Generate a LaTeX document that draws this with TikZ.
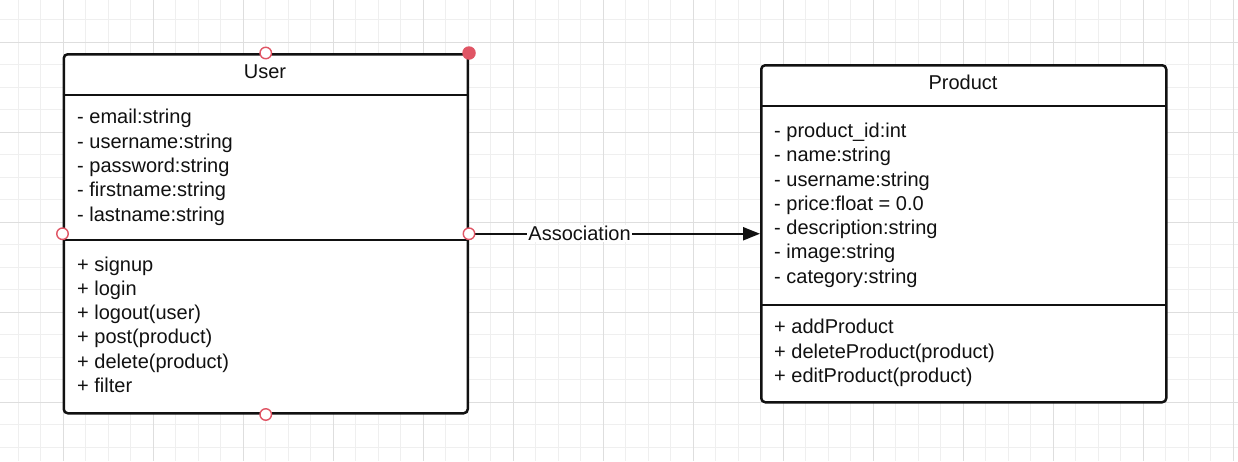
\documentclass[tikz,border=0pt]{standalone}
\usepackage{fontspec}
\setmainfont{Liberation Sans}
\usetikzlibrary{arrows.meta}
\definecolor{gridminor}{HTML}{EFEFEF}
\definecolor{gridmajor}{HTML}{DEDEDE}
\definecolor{handlered}{HTML}{E05565}
\definecolor{ink}{HTML}{111111}
\begin{document}
\begin{tikzpicture}[x=1pt,y=-1pt,line join=round,
  umlbox/.style={draw=ink, line width=2.5pt, rounded corners=4pt, fill=white, inner sep=0pt},
  sepline/.style={draw=ink, line width=2.3pt},
  txt/.style={font=\fontsize{20}{24}\selectfont, inner sep=0pt, anchor=base west, text=ink},
  ttl/.style={font=\fontsize{20}{24}\selectfont, inner sep=0pt, anchor=base, text=ink},
  handle/.style={circle, draw=handlered, fill=white, line width=1.4pt, minimum size=11.5pt, inner sep=0pt},
  handlefull/.style={circle, fill=handlered, minimum size=13.5pt, inner sep=0pt},
  assoc/.style={draw=ink, line width=2.2pt, -{Triangle[length=17pt,width=13pt]}},
  lbl/.style={font=\fontsize{20}{24}\selectfont, fill=white, inner sep=1pt, text=ink}]

\useasboundingbox (0,0) rectangle (1238,461);
\fill[white] (0,0) rectangle (1238,461);
\foreach \i in {0,...,54} \draw[gridminor, line width=1pt] ({18+22.5*\i},0) -- ({18+22.5*\i},461);
\foreach \j in {0,...,19} \draw[gridminor, line width=1pt] (0,{19.5+22.5*\j}) -- (1238,{19.5+22.5*\j});
\foreach \i in {0,...,13} \draw[gridmajor, line width=1pt] ({63+90*\i},0) -- ({63+90*\i},461);
\foreach \j in {0,...,4} \draw[gridmajor, line width=1pt] (0,{42+90*\j}) -- (1238,{42+90*\j});

% User class
\node[umlbox, minimum width=404pt, minimum height=359pt, anchor=north west] (user) at (62.5,53) {};
\draw[sepline] (62.5,95) -- (466.5,95);
\draw[sepline] (62.5,240) -- (466.5,240);
\node[ttl] (utitle) at (265,78.5) {User};
\node[txt] (ua1) at (77,123.5) {- email:string};
\node[txt] (ua2) at (77,148) {- username:string};
\node[txt] (ua3) at (77,172.5) {- password:string};
\node[txt] (ua4) at (77,196.5) {- firstname:string};
\node[txt] (ua5) at (77,221) {- lastname:string};
\node[txt] (um1) at (77,271.5) {+ signup};
\node[txt] (um2) at (77,295) {+ login};
\node[txt] (um3) at (77,319.5) {+ logout(user)};
\node[txt] (um4) at (77,343.5) {+ post(product)};
\node[txt] (um5) at (77,368) {+ delete(product)};
\node[txt] (um6) at (77,392.5) {+ filter};

% Product class
\node[umlbox, minimum width=405pt, minimum height=337pt, anchor=north west] (product) at (760,64) {};
\draw[sepline] (760,106) -- (1165,106);
\draw[sepline] (760,305) -- (1165,305);
\node[ttl] (ptitle) at (963,89.5) {Product};
\node[txt] (pa1) at (774,137.5) {- product\_id:int};
\node[txt] (pa2) at (774,161.5) {- name:string};
\node[txt] (pa3) at (774,186) {- username:string};
\node[txt] (pa4) at (774,210) {- price:float = 0.0};
\node[txt] (pa5) at (774,234.5) {- description:string};
\node[txt] (pa6) at (774,258.5) {- image:string};
\node[txt] (pa7) at (774,283) {- category:string};
\node[txt] (pm1) at (774,333.5) {+ addProduct};
\node[txt] (pm2) at (774,358) {+ deleteProduct(product)};
\node[txt] (pm3) at (774,382.5) {+ editProduct(product)};

% Association
\draw[assoc] (user.east) -- node[lbl, pos=0.38] (assoclbl) {Association} (product.west);

% selection handles
\node[handle] (hn) at (user.north) {};
\node[handlefull] (hne) at (user.north east) {};
\node[handle] (hw) at (user.west) {};
\node[handle] (he) at (user.east) {};
\node[handle] (hs) at (user.south) {};
\end{tikzpicture}
\end{document}
